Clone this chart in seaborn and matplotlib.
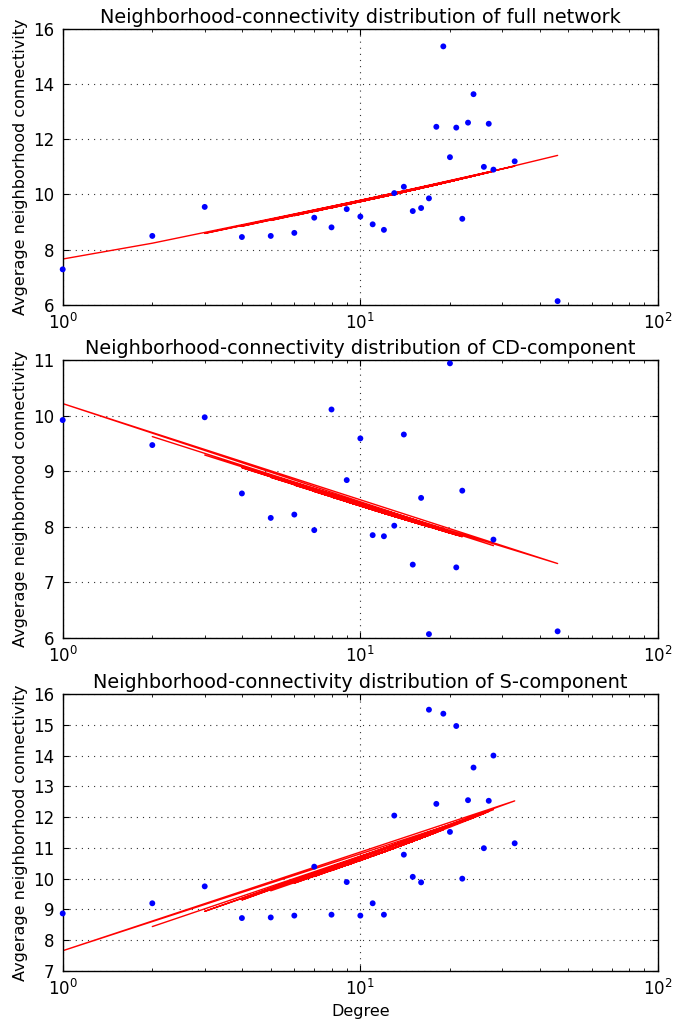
import numpy as np
import pandas as pd
import matplotlib
matplotlib.use("Agg")
import matplotlib.pyplot as plt
import seaborn as sns

# ---------------- data ----------------
deg_full = [1, 2, 3, 4, 5, 6, 7, 8, 9, 10, 11, 12, 13, 14, 15, 16, 17, 18, 19, 20,
            21, 22, 23, 24, 26, 27, 28, 33, 46]
anc_full = [7.29, 8.50, 9.55, 8.46, 8.50, 8.61, 9.16, 8.81, 9.47, 9.20, 8.92, 8.72,
            10.05, 10.28, 9.40, 9.51, 9.86, 12.45, 15.36, 11.35, 12.42, 9.12, 12.60,
            13.63, 11.00, 12.56, 10.90, 11.20, 6.14]
# order in which the nodes were visited (fit line drawn unsorted)
order_full = [1, 2, 18, 3, 24, 4, 20, 7, 33, 5, 14, 9, 27, 6, 16, 11, 22, 12, 19, 8,
              26, 13, 23, 10, 28, 15, 21, 17, 46]

deg_cd = [1, 2, 3, 4, 5, 6, 7, 8, 9, 10, 11, 12, 13, 14, 15, 16, 17, 20, 21, 22, 28, 46]
anc_cd = [9.92, 9.47, 9.97, 8.60, 8.16, 8.22, 7.94, 10.11, 8.84, 9.59, 7.85, 7.83,
          8.02, 9.66, 7.32, 8.52, 6.07, 10.94, 7.27, 8.65, 7.77, 6.12]
order_cd = [2, 28, 1, 46, 3, 21, 4, 16, 5, 22, 7, 13, 9, 20, 6, 15, 11, 17, 8, 14, 12, 10]

deg_s = [1, 2, 3, 4, 5, 6, 7, 8, 9, 10, 11, 12, 13, 14, 15, 16, 17, 18, 19, 20, 21,
         22, 23, 24, 26, 27, 28, 33]
anc_s = [8.87, 9.20, 9.75, 8.72, 8.74, 8.80, 10.39, 8.83, 9.89, 8.80, 9.20, 8.83,
         12.05, 10.78, 10.06, 9.88, 15.49, 12.43, 15.36, 11.52, 14.96, 10.00, 12.55,
         13.61, 10.99, 12.53, 14.00, 11.15]
order_s = [2, 24, 3, 28, 4, 33, 1, 26, 5, 13, 6, 14, 7, 15, 8, 16, 9, 17, 10, 18, 11,
           19, 12, 20, 21, 22, 23, 27]

titles = ["Neighborhood-connectivity distribution of full network",
          "Neighborhood-connectivity distribution of CD-component",
          "Neighborhood-connectivity distribution of S-component"]
ylims = [(6, 16), (6, 11), (7, 16)]
yticks = [[6, 8, 10, 12, 14, 16], [6, 7, 8, 9, 10, 11],
          [7, 8, 9, 10, 11, 12, 13, 14, 15, 16]]
ylabel = "Avgerage neighborhood connectivity"
xlabel = "Degree"

# ---------------- figure ----------------
sns.set_style("white")
plt.rcParams['font.family'] = ['DejaVu Sans']
plt.rcParams['mathtext.default'] = 'regular'
plt.rcParams['text.color'] = 'black'
plt.rcParams['axes.labelcolor'] = 'black'
plt.rcParams['xtick.color'] = 'black'
plt.rcParams['ytick.color'] = 'black'

fig = plt.figure(figsize=(6.75, 10.21), dpi=100)
fig.patch.set_facecolor("white")

W, H = 675.0, 1021.0
left_px, right_px = 62.7, 658.0
boxes = [(28.7, 305.0), (360.0, 638.0), (694.0, 971.0)]

datasets = [(deg_full, anc_full, order_full),
            (deg_cd, anc_cd, order_cd),
            (deg_s, anc_s, order_s)]

for i, ((deg, anc, order), (top, bot)) in enumerate(zip(datasets, boxes)):
    ax = fig.add_axes([left_px / W, 1 - bot / H, (right_px - left_px) / W, (bot - top) / H])
    df = pd.DataFrame({"degree": deg, "anc": anc})

    # power-law fit in log-log space
    k, b = np.polyfit(np.log(df["degree"]), np.log(df["anc"]), 1)
    line = df.set_index("degree").loc[order].reset_index()
    line["fit"] = np.exp(b) * line["degree"] ** k

    sns.lineplot(data=line, x="degree", y="fit", sort=False, estimator=None,
                 color="red", linewidth=1.0, ax=ax, zorder=2)
    sns.scatterplot(data=df, x="degree", y="anc", color="blue", s=18,
                    edgecolor="none", linewidth=0, ax=ax, zorder=3, clip_on=False)

    ax.set_xscale("log")
    ax.set_xlim(1, 100)
    ax.set_ylim(*ylims[i])
    ax.set_yticks(yticks[i])
    ax.set_title(titles[i], fontsize=13.9, pad=4, color="black")
    ax.set_ylabel(ylabel, fontsize=11.5, labelpad=4)
    ax.set_xlabel(xlabel if i == 2 else "", fontsize=11.5, labelpad=3)
    ax.grid(True, which="major", linestyle=(0, (1, 4.5)), color="0.2", linewidth=0.8)
    ax.tick_params(which="both", direction="in", top=True, right=True,
                   bottom=True, left=True, labelsize=12, color="k")
    ax.tick_params(which="major", length=4, width=0.8, pad=6)
    ax.tick_params(which="minor", length=2, width=0.6)
    for sp in ax.spines.values():
        sp.set_color("k")
        sp.set_linewidth(1.0)

fig.savefig("out.png", dpi=100, facecolor="white")
